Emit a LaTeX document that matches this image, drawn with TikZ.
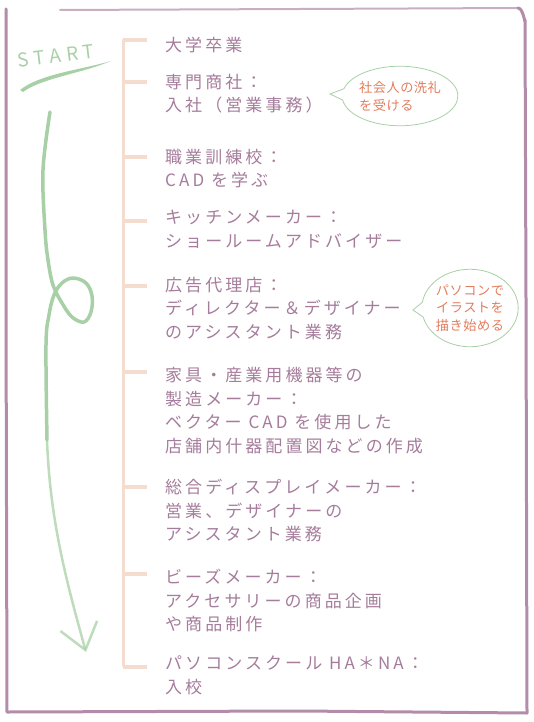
\documentclass[tikz,border=0pt]{standalone}
\usepackage{fontspec}
\newfontfamily\jp[LetterSpace=18]{Noto Sans CJK JP}
\newfontfamily\fukijp[LetterSpace=4]{Noto Sans CJK JP}
\newfontfamily\stfont[LetterSpace=28]{Noto Sans CJK JP}
\usetikzlibrary{arrows.meta,positioning,calc,shapes.geometric,shapes.callouts}
\definecolor{murasaki}{RGB}{178,140,168}
\definecolor{moji}{RGB}{165,124,155}
\definecolor{momo}{RGB}{244,220,207}
\definecolor{midori}{RGB}{168,208,166}
\definecolor{daidai}{RGB}{226,126,94}
\tikzset{
  waku/.style={line width=3pt,draw=murasaki,line cap=round,line join=round},
  jiku/.style={line width=3pt,draw=momo,line cap=round},
  hane/.style={line width=3.5pt,draw=momo,shorten >=18pt},
  keireki/.style={anchor=north west,inner sep=0pt,align=left,text=moji,
    font=\jp\fontsize{17}{23.5}\selectfont},
  fuki/.style={ellipse callout,draw=midori,line width=0.8pt,fill=white,
    inner xsep=0pt,text=daidai,callout pointer arc=22},
  yaji/.style={draw=midori,line width=3.5pt,line cap=round,line join=round},
}

\begin{document}
\begin{tikzpicture}[x=1pt,y=-1pt]
  \useasboundingbox (0,0) rectangle (533,722);
  % waku
  \draw[waku] (6,9) -- (6,300) -- (7,712) -- (300,711) -- (527,713)
    -- (526,300) -- (525,20) to[out=-90,in=0] (518,8);
  \draw[waku,line width=2pt,opacity=.7] (518,8) -- (300,9) -- (60,10);
  % START
  \node[text=midori,rotate=7,inner sep=0pt,font=\stfont\fontsize{19}{19}\selectfont] (st) at (56,56) {START};
  \fill[midori] (20,90) .. controls (40,74) and (80,70) .. (111,61)
    .. controls (80,74) and (42,78) .. (23,92) -- cycle;
  % yajirushi
  \coordinate (s0) at (50,112);
  \coordinate (s2) at (47,440);
  \coordinate (s1) at (86,652);
  \draw[yaji] plot[smooth,tension=.6] coordinates {
    (s0) (43,170) (45,230) (48,260) (53,285) (62,303) (72,317) (84,322)
    (91,312) (92,296) (86,283) (73,278) (62,283) (54,295) (49,315) (46,345)
    (s2)};
  \draw[yaji,line width=2.5pt,opacity=.75,-{Straight Barb[length=25pt,width=38pt]}]
    (s2) .. controls (50,520) and (66,580) .. (s1);
  % jiku
  \coordinate (j0) at (123,40);
  \coordinate (j1) at (123,666);
  \draw[jiku] (j0) -- (j1);
  \foreach \i/\ty/\y/\t in {
    1/40/45/{大学卒業},
    2/82/82/{専門商社：\\入社（営業事務）},
    3/157/157/{職業訓練校：\\CAD を学ぶ},
    4/221/218/{キッチンメーカー：\\ショールームアドバイザー},
    5/286/285/{広告代理店：\\ディレクター＆デザイナー\\のアシスタント業務},
    6/372/375/{家具・産業用機器等の\\製造メーカー：\\ベクター CAD を使用した\\店舗内什器配置図などの作成},
    7/487/487/{総合ディスプレイメーカー：\\営業、デザイナーの\\アシスタント業務},
    8/574/577/{ビーズメーカー：\\アクセサリーの商品企画\\や商品制作},
    9/667/664/{パソコンスクール HA＊NA：\\入校}} {
    \node[keireki] (e\i) at (165,\y-8) {\t};
    \coordinate (t\i) at (123,\ty);
    \draw[hane] (t\i) -- (t\i -| e\i.west);
  }
  % fukidashi
  \coordinate (p1) at (330,94);
  \node[fuki,callout absolute pointer={(p1)},align=left,inner ysep=6pt,
    font=\fukijp\fontsize{13.2}{18}\selectfont] (f1) at (400,96) {社会人の洗礼\\を受ける};
  \coordinate (p2) at (413,310);
  \node[fuki,callout absolute pointer={(p2)},align=center,inner ysep=4pt,
    font=\fukijp\fontsize{13.2}{17.5}\selectfont] (f2) at (470,308) {パソコンで\\イラストを\\描き始める};
\end{tikzpicture}
\end{document}
